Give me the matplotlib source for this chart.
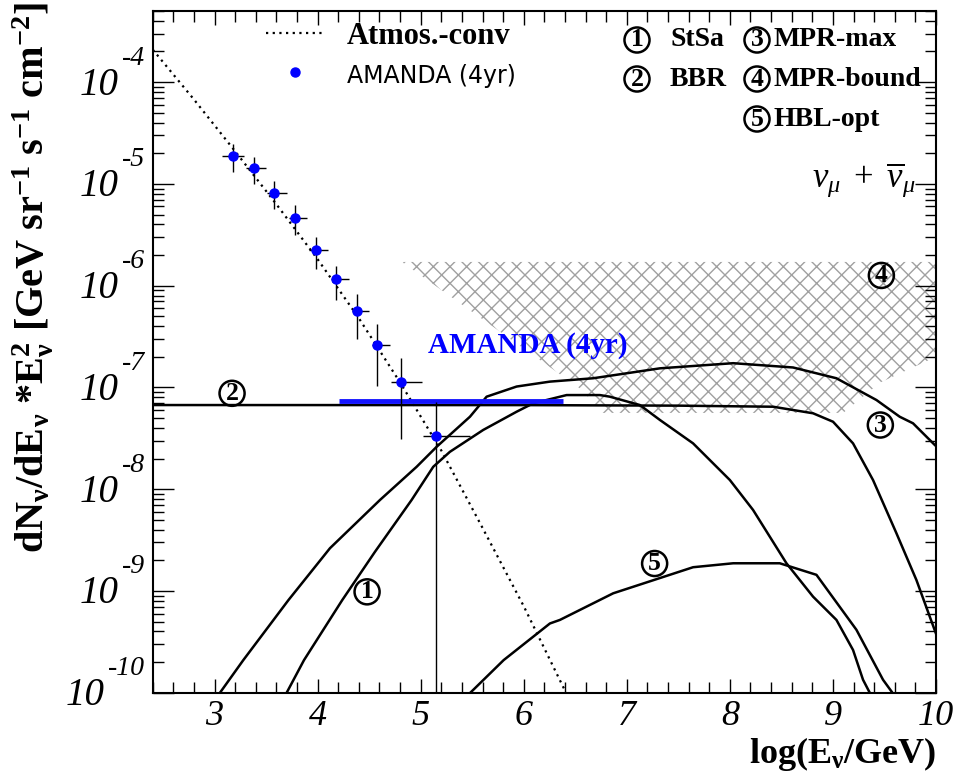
import matplotlib
matplotlib.use("Agg")
import matplotlib.pyplot as plt
from matplotlib.ticker import MultipleLocator, LogLocator, NullFormatter

plt.rcParams['mathtext.fontset'] = 'custom'
plt.rcParams['mathtext.rm'] = 'Liberation Serif'
plt.rcParams['mathtext.it'] = 'Liberation Serif:italic'
plt.rcParams['mathtext.bf'] = 'Liberation Serif:bold'
plt.rcParams['hatch.linewidth'] = 1.0

# atmospheric conventional flux (dotted)
atm_logE = [2.4, 2.8, 3.2, 3.6, 4.0, 4.4, 4.8, 5.2, 5.6, 6.0, 6.41]
atm_flux = [2.09e-4, 6.76e-5, 2.09e-5, 6.31e-6, 1.82e-6, 4.79e-7, 1.12e-7,
            2.40e-8, 4.17e-9, 7.08e-10, 1.0e-10]

# AMANDA 4yr unfolded spectrum
amanda_logE = [3.18, 3.38, 3.58, 3.78, 3.98, 4.18, 4.38, 4.58, 4.81, 5.15]
amanda_flux = [1.89e-5, 1.42e-5, 8.18e-6, 4.65e-6, 2.25e-6, 1.15e-6, 5.60e-7,
               2.61e-7, 1.12e-7, 3.33e-8]
amanda_rel_err = [0.30, 0.30, 0.30, 0.32, 0.35, 0.37, 0.47, 0.60, 0.72, 1.15]
amanda_xerr_lo = [0.11, 0.07, 0.07, 0.06, 0.06, 0.05, 0.05, 0.05, 0.10, 0.13]
amanda_xerr_hi = [0.11, 0.12, 0.12, 0.12, 0.12, 0.12, 0.12, 0.12, 0.20, 0.33]

# AMANDA 4yr limit
limit_logE = [4.21, 6.38]
limit_flux = [7.4e-8, 7.4e-8]

# (1) StSa
stsa_logE = [3.70, 3.868, 4.239, 4.556, 4.912, 5.122, 5.284, 5.607, 5.931, 6.092,
             6.416, 6.739, 6.835, 7.127, 7.321, 7.643, 8.0, 8.225, 8.549, 8.807,
             9.034, 9.195, 9.292, 9.357]
stsa_flux = [1.0e-10, 2.09e-10, 8.13e-10, 2.42e-9, 7.83e-9, 1.66e-8, 2.33e-8, 3.82e-8,
             5.77e-8, 6.98e-8, 8.41e-8, 8.41e-8, 8.11e-8, 6.71e-8, 4.79e-8, 2.82e-8,
             1.23e-8, 6.25e-9, 1.87e-9, 8.79e-10, 5.19e-10, 2.63e-10, 1.34e-10, 1.0e-10]

# (2) BBR
bbr_logE = [2.4, 6.0, 7.5, 8.419, 8.807, 9.001, 9.195, 9.389, 9.616, 9.810, 10.0]
bbr_flux = [6.71e-8, 6.70e-8, 6.62e-8, 6.46e-8, 5.57e-8, 4.60e-8, 2.82e-8, 1.23e-8,
            3.69e-9, 1.28e-9, 3.80e-10]

# (3) MPR-max
mpr_logE = [3.053, 3.279, 3.717, 4.12, 4.605, 4.961, 5.155, 5.478, 5.640, 5.931,
            6.254, 6.673, 7.321, 8.032, 8.613, 9.034, 9.422, 9.648, 9.777, 9.988]
mpr_flux = [1.0e-10, 2.09e-10, 8.13e-10, 2.63e-9, 7.83e-9, 1.66e-8, 2.61e-8, 5.15e-8,
            8.11e-8, 1.02e-7, 1.14e-7, 1.23e-7, 1.54e-7, 1.73e-7, 1.57e-7, 1.23e-7,
            7.52e-8, 5.15e-8, 4.44e-8, 2.72e-8]

# (4) MPR-bound region
bound_logE = [4.818, 10.0, 10.0, 9.46, 9.10, 6.75, 6.573, 4.818]
bound_flux = [1.71e-6, 1.71e-6, 2.0e-7, 1.12e-7, 5.62e-8, 5.62e-8, 9.33e-8, 1.71e-6]

# (5) HBL-opt
hbl_logE = [5.482, 5.805, 6.254, 6.351, 6.868, 7.643, 8.032, 8.484, 8.840, 9.228,
            9.486, 9.577]
hbl_flux = [1.0e-10, 2.09e-10, 4.79e-10, 5.19e-10, 9.48e-10, 1.71e-9, 1.87e-9,
            1.87e-9, 1.44e-9, 4.15e-10, 1.34e-10, 1.0e-10]

xticks = [3, 4, 5, 6, 7, 8, 9, 10]
ytick_exps = [-10, -9, -8, -7, -6, -5, -4]

W, H = 957, 774
PT = 0.72  # points per pixel at dpi 100
fig = plt.figure(figsize=(W / 100, H / 100), dpi=100)
ax = fig.add_axes([152.7 / W, 1 - 692.7 / H, (936 - 152.7) / W, (692.7 - 11) / H])
ax.set_yscale('log')
ax.set_xlim(2.4, 10)
ax.set_ylim(1e-10, 5e-4)

ax.fill(bound_logE, bound_flux, facecolor='none', edgecolor='#a0a0a0', hatch='xx', lw=0)

atm_line, = ax.plot(atm_logE, atm_flux, color='black', ls=(0, (1, 2)), lw=1.6)
for xs, ys in [(stsa_logE, stsa_flux), (bbr_logE, bbr_flux), (mpr_logE, mpr_flux),
               (hbl_logE, hbl_flux)]:
    ax.plot(xs, ys, color='black', lw=1.8)

ax.plot(limit_logE, limit_flux, color='#1414ff', lw=3.5, solid_capstyle='butt')

ylo = [min(r, 0.999) * f for r, f in zip(amanda_rel_err, amanda_flux)]
yhi = [r * f for r, f in zip(amanda_rel_err, amanda_flux)]
eb = ax.errorbar(amanda_logE, amanda_flux, xerr=[amanda_xerr_lo, amanda_xerr_hi],
                 yerr=[ylo, yhi], fmt='o', color='blue', ms=6.5, ecolor='black',
                 elinewidth=1.0, capsize=0, zorder=5)

# axes style
for s in ax.spines.values():
    s.set_linewidth(1.5)
ax.set_xticks(xticks, labels=[str(v) for v in xticks], fontsize=26, fontstyle='italic',
              family='Liberation Serif')
ax.xaxis.set_minor_locator(MultipleLocator(0.2))
ax.set_yticks([10.0 ** e for e in ytick_exps])
ax.yaxis.set_minor_locator(LogLocator(base=10, subs=range(2, 10), numticks=20))
ax.yaxis.set_minor_formatter(NullFormatter())
ax.tick_params(which='both', direction='in', top=True, right=True, width=1.0)
ax.tick_params(axis='x', which='major', length=10, pad=5)
ax.tick_params(axis='x', which='minor', length=8)
ax.tick_params(axis='y', which='major', length=15, labelleft=False)
ax.tick_params(axis='y', which='minor', length=8)

# ROOT-style y labels: "10" with a raised exponent
for e in ytick_exps:
    ex = ax.annotate('%d' % e, xy=(0, 10.0 ** e), xycoords=('axes fraction', 'data'),
                     xytext=(-8 * PT, 24 * PT), textcoords='offset points',
                     ha='right', va='center', fontsize=20, fontstyle='italic',
                     family='Liberation Serif', annotation_clip=False)
    ax.annotate('10', xy=(0, 0.5), xycoords=ex, xytext=(-3 * PT, -27 * PT),
                textcoords='offset points', ha='right', va='center', fontsize=28,
                fontstyle='italic', family='Liberation Serif', annotation_clip=False)

# legend
leg = ax.legend([atm_line, eb[0]], ['Atmos.-conv', 'AMANDA (4yr)'], loc='upper left',
                bbox_to_anchor=(266 / W, 1 - 22 / H), bbox_transform=fig.transFigure,
                frameon=False, borderpad=0, borderaxespad=0, handlelength=1.9,
                handletextpad=0.75, labelspacing=0.35,
                prop={'family': 'Liberation Serif', 'weight': 'bold', 'size': 22})
t2 = leg.get_texts()[1]
t2.set_fontfamily('DejaVu Sans')
t2.set_fontweight('normal')
t2.set_fontsize(17)

circ = dict(boxstyle='circle,pad=0.04', fc='none', ec='black', lw=1.8)


def ftext(px, py, s, **kw):
    fig.text(px / W, 1 - py / H, s, **kw)


def circled(num, px=None, py=None, x=None, y=None):
    kw = dict(ha='center', va='center', family='Liberation Serif', weight='bold',
              fontsize=18.5, bbox=circ)
    if x is None:
        ftext(px, py, num, **kw)
    else:
        ax.text(x, y, num, **kw)


# model key, top right
key = [('1', 'StSa', 637, 40), ('3', 'MPR-max', 757, 40),
       ('2', 'BBR', 637, 79), ('4', 'MPR-bound', 757, 79),
       ('5', 'HBL-opt', 757, 119)]
for num, name, px, py in key:
    circled(num, px, py)
    dx = 33 if px < 700 else 17
    ftext(px + dx, py, name, ha='left', va='center', family='Liberation Serif',
          weight='bold', fontsize=20)

ftext(916, 180, r'$\nu_{\mu}\ +\ \overline{\nu}_{\mu}$', ha='right', va='center',
      fontsize=25)

# curve labels
for num, lx, ly in [('2', 3.17, 8.75e-8), ('1', 4.48, 9.8e-10), ('3', 9.46, 4.27e-8),
                    ('4', 9.47, 1.26e-6), ('5', 7.27, 1.86e-9)]:
    circled(num, x=lx, y=ly)

ax.text(6.04, 2.57e-7, 'AMANDA (4yr)', color='blue', ha='center', va='center',
        family='Liberation Serif', weight='bold', fontsize=21)

# axis titles
ftext(936, 735, r'log(E$_{\mathbf{ν}}$/GeV)', ha='right', va='top',
      family='Liberation Serif', weight='bold', fontsize=26)
ftext(33, 2, r'dN$_{\mathbf{ν}}$/dE$_{\mathbf{ν}}$ *E$_{\mathbf{ν}}^{\mathbf{2}}$'
      r' [GeV sr$^{\mathbf{-1}}$ s$^{\mathbf{-1}}$ cm$^{\mathbf{-2}}$]',
      rotation=90, ha='center', va='top', family='Liberation Serif', weight='bold',
      fontsize=29)

fig.savefig('out.png', dpi=100)
